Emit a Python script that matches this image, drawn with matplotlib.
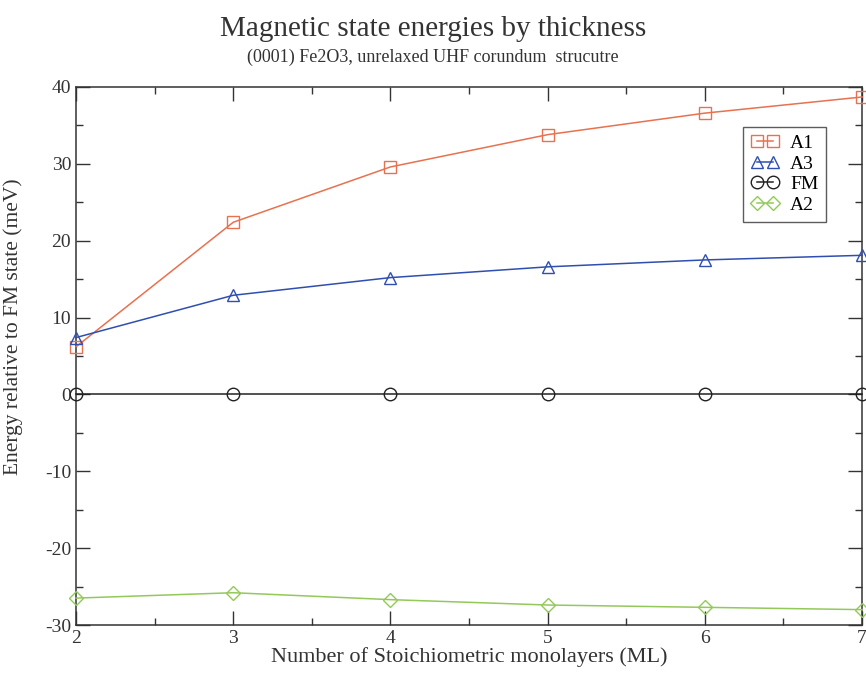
import matplotlib
matplotlib.use("Agg")
import matplotlib.pyplot as plt
from matplotlib.ticker import MultipleLocator

plt.rcParams["font.family"] = ["Liberation Serif", "DejaVu Serif"]
plt.rcParams["axes.unicode_minus"] = False

# energies relative to the FM state, meV
layers = [2, 3, 4, 5, 6, 7]
e_a1 = [6.2, 22.4, 29.6, 33.8, 36.6, 38.7]
e_a3 = [7.4, 12.9, 15.2, 16.6, 17.5, 18.1]
e_fm = [0, 0, 0, 0, 0, 0]
e_a2 = [-26.5, -25.8, -26.7, -27.4, -27.7, -28.0]

series = [
    ("A1", e_a1, "#e8714f", "s"),
    ("A3", e_a3, "#2f4fb0", "^"),
    ("FM", e_fm, "#222222", "o"),
    ("A2", e_a2, "#93c95a", "D"),
]

fig = plt.figure(figsize=(8.66, 6.77), dpi=100)
ax = fig.add_axes([0.0878, 0.0768, 0.9077, 0.7947])

for name, vals, col, mk in series:
    ax.plot(layers, vals, color=col, lw=1.1, marker=mk,
            markersize=9 if mk != "D" else 7.5, mfc="none", mec=col,
            mew=1.0, label=name, clip_on=False, zorder=3)

ax.set_xlim(2, 7)
ax.set_ylim(-30, 40)
ax.xaxis.set_major_locator(MultipleLocator(1))
ax.xaxis.set_minor_locator(MultipleLocator(0.5))
ax.yaxis.set_major_locator(MultipleLocator(10))
ax.yaxis.set_minor_locator(MultipleLocator(5))
ax.tick_params(which="both", direction="in", top=True, right=True,
               labelsize=14, colors="#333333")
ax.tick_params(which="major", length=10, width=1.0)
ax.tick_params(which="minor", length=5, width=1.0)
for sp in ax.spines.values():
    sp.set_color("#333333")
    sp.set_linewidth(1.1)

ax.set_xlabel("Number of Stoichiometric monolayers (ML)", fontsize=16,
              color="#333333", labelpad=0)
ax.set_ylabel("Energy relative to FM state (meV)", fontsize=15.5,
              color="#333333")
ax.yaxis.set_label_coords(-0.067, 0.555)

fig.text(0.5, 0.947, "Magnetic state energies by thickness", ha="center",
         va="baseline", fontsize=21, color="#333333")
fig.text(0.5, 0.909, "(0001) Fe2O3, unrelaxed UHF corundum  strucutre",
         ha="center", va="baseline", fontsize=13, color="#333333")

leg = ax.legend(loc="upper left", bbox_to_anchor=(0.849, 0.926), numpoints=2,
                fontsize=14, frameon=True, fancybox=False, handlelength=1.4,
                handletextpad=0.6, borderpad=0.4, labelspacing=0.15,
                borderaxespad=0, markerscale=1.0)
leg.get_frame().set_edgecolor("#333333")
leg.get_frame().set_linewidth(1.0)

fig.savefig("out.png", dpi=100)
